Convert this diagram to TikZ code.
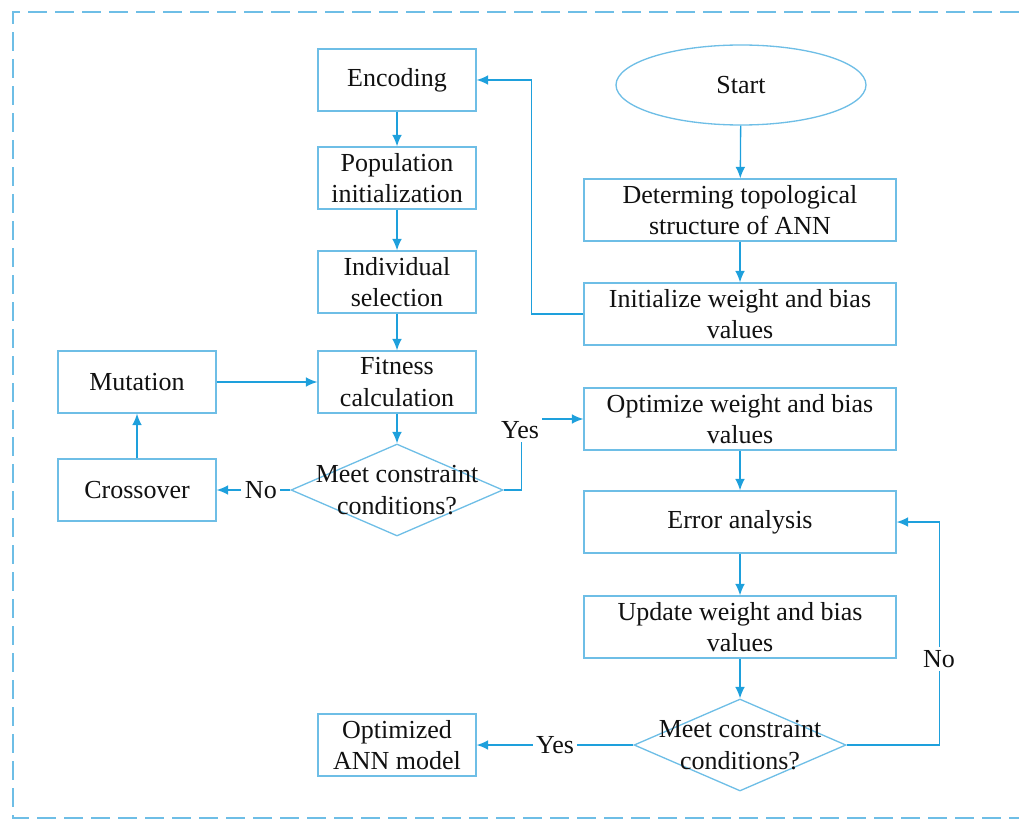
\documentclass[tikz,border=0pt]{standalone}
\usepackage{fontspec}
\setmainfont{Liberation Serif}
\usepackage{tikz}
\usetikzlibrary{arrows.meta,positioning,calc,shapes.geometric}
\definecolor{FlowLine}{HTML}{6EBEE6}
\definecolor{FlowArrow}{HTML}{1EA0DC}
\definecolor{FlowInk}{HTML}{111111}

\begin{document}
\begin{tikzpicture}[
    proc/.style={
      draw=FlowLine, line width=0.75pt, fill=white,
      minimum width=3.16cm, minimum height=1.24cm,
      font=\fontsize{14.8}{18}\selectfont, align=center, text=FlowInk,
      inner sep=1pt
    },
    wideproc/.style={proc, minimum width=6.24cm},
    term/.style={proc, ellipse, minimum width=5.0cm, minimum height=1.6cm},
    decide/.style={
      draw=FlowLine, line width=0.75pt, diamond,
      minimum width=4.24cm, minimum height=1.84cm, inner sep=0pt
    },
    arr/.style={-{Latex[length=6.5pt,width=5.5pt]}, line width=0.75pt, color=FlowArrow},
    lbl/.style={font=\fontsize{14.8}{18}\selectfont, text=FlowInk,
      fill=white, inner sep=2pt}
  ]

  \useasboundingbox (0,0) rectangle (20.38,-16.40);

  % frame
  \draw[FlowLine, line width=0.8pt, dash pattern=on 0.38cm off 0.16cm]
    (20.38,-0.24) -- (0.26,-0.24) -- (0.26,-16.36) -- (20.38,-16.36);

  % genetic algorithm column
  \node[proc] (enc) at (7.94, -1.60)  {Encoding};
  \node[proc] (pop) at (7.94, -3.56)  {Population\\initialization};
  \node[proc] (sel) at (7.94, -5.64)  {Individual\\selection};
  \node[proc] (fit) at (7.94, -7.64)  {Fitness\\calculation};
  \node[decide, label={[align=center, font=\fontsize{14.8}{18}\selectfont,
      text=FlowInk]center:Meet constraint\\conditions?}] (mc1) at (7.94, -9.80) {};
  \node[proc] (cro) at (2.74, -9.80)  {Crossover};
  \node[proc] (mut) at (2.74, -7.64)  {Mutation};

  % network column
  \node[term]     (start) at (14.82, -1.70) {Start};
  \node[wideproc] (topo)  at (14.80, -4.20) {Determing topological\\structure of ANN};
  \node[wideproc] (init)  at (14.80, -6.28) {Initialize weight and bias\\values};
  \node[wideproc] (opt)   at (14.80, -8.38) {Optimize weight and bias\\values};
  \node[wideproc] (err)   at (14.80, -10.44) {Error analysis};
  \node[wideproc] (upd)   at (14.80, -12.54) {Update weight and bias\\values};
  \node[decide, label={[align=center, font=\fontsize{14.8}{18}\selectfont,
      text=FlowInk]center:Meet constraint\\conditions?}] (mc2) at (14.80, -14.90) {};
  \node[proc] (ann) at (7.94, -14.90) {Optimized\\ANN model};

  \draw[arr] (enc) -- (pop);
  \draw[arr] (pop) -- (sel);
  \draw[arr] (sel) -- (fit);
  \draw[arr] (fit) -- (mc1);
  \draw[arr] (cro) -- (mut);
  \draw[arr] (mut) -- (fit);
  \draw[arr] (mc1.west) -- (cro.east) node[lbl, pos=0.4] {No};

  \draw[arr] (start) -- (topo);
  \draw[arr] (topo) -- (init);
  \draw[arr] (init.west) -- ++(-1.04,0) |- (enc.east);
  \draw[arr] (mc1.east) -- ++(0.36,0) |- (opt.west);
  \node[lbl] (yes1) at (10.40, -8.60) {Yes};
  \draw[arr] (opt) -- (err);
  \draw[arr] (err) -- (upd);
  \draw[arr] (upd) -- (mc2);
  \draw[arr] (mc2.east) -- ++(1.86,0) |- (err.east);
  \node[lbl] (no2) at (18.78, -13.18) {No};
  \draw[arr] (mc2.west) -- (ann.east) node[lbl, midway] {Yes};

\end{tikzpicture}
\end{document}
